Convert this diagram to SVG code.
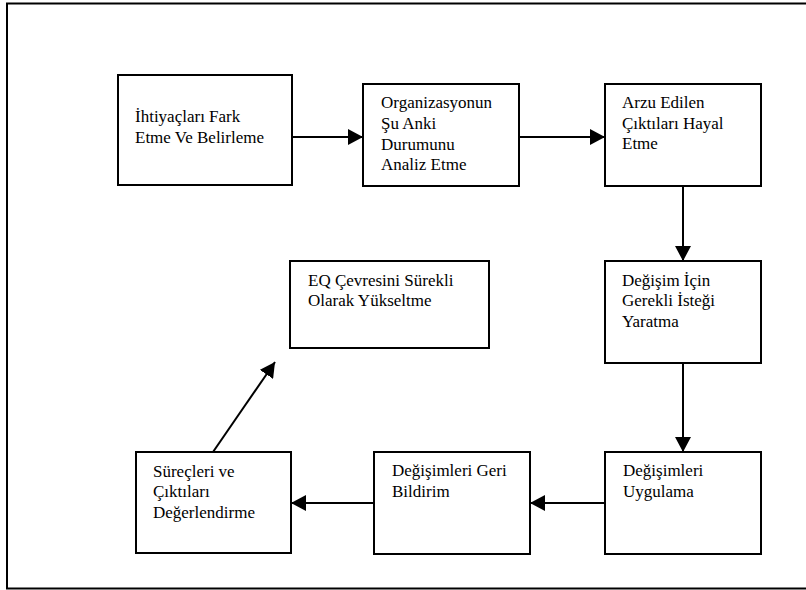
<svg xmlns="http://www.w3.org/2000/svg" width="806" height="590" viewBox="0 0 806 590">
<style>
.box{fill:#fff;stroke:#000;stroke-width:2}
.c{stroke:#000;stroke-width:2;fill:none;marker-end:url(#ah)}
</style>
<defs>
<marker id="ah" markerUnits="userSpaceOnUse" markerWidth="16" markerHeight="16" refX="15" refY="8" orient="auto">
<path d="M0,0 L15,8 L0,16 z" fill="#000"/>
</marker>
</defs>
<rect x="0" y="0" width="806" height="590" fill="#fff"/>
<rect x="7" y="3.5" width="820" height="585" fill="none" stroke="#000" stroke-width="2"/>
<g id="connectors">
<line class="c" x1="292" y1="137" x2="363" y2="137"/>
<line class="c" x1="519" y1="137" x2="605" y2="137"/>
<line class="c" x1="683" y1="186" x2="683" y2="261"/>
<line class="c" x1="683" y1="363" x2="683" y2="452"/>
<line class="c" x1="605" y1="503" x2="530" y2="503"/>
<line class="c" x1="374" y1="503" x2="291" y2="503"/>
<line class="c" x1="213" y1="452" x2="275" y2="362"/>
</g>
<g id="nodes" font-family="Liberation Serif, Times New Roman, serif" font-size="17" fill="#000">
<g id="n1">
<rect class="box" x="118" y="75" width="174" height="110"/>
<text x="135" y="122">İhtiyaçları Fark</text>
<text x="135" y="143">Etme Ve Belirleme</text>
</g>
<g id="n2">
<rect class="box" x="363" y="84" width="156" height="102"/>
<text x="381" y="108">Organizasyonun</text>
<text x="381" y="129">Şu Anki</text>
<text x="381" y="150">Durumunu</text>
<text x="381" y="170">Analiz Etme</text>
</g>
<g id="n3">
<rect class="box" x="605" y="84" width="156" height="102"/>
<text x="622" y="108">Arzu Edilen</text>
<text x="622" y="129">Çıktıları Hayal</text>
<text x="622" y="149">Etme</text>
</g>
<g id="n4">
<rect class="box" x="605" y="261" width="156" height="102"/>
<text x="622" y="286">Değişim İçin</text>
<text x="622" y="306">Gerekli İsteği</text>
<text x="622" y="327">Yaratma</text>
</g>
<g id="n5">
<rect class="box" x="605" y="452" width="156" height="102"/>
<text x="623" y="476">Değişimleri</text>
<text x="623" y="497">Uygulama</text>
</g>
<g id="n6">
<rect class="box" x="374" y="452" width="156" height="102"/>
<text x="392" y="476">Değişimleri Geri</text>
<text x="392" y="497">Bildirim</text>
</g>
<g id="n7">
<rect class="box" x="136" y="452" width="155" height="101"/>
<text x="153" y="477">Süreçleri ve</text>
<text x="153" y="497">Çıktıları</text>
<text x="153" y="518">Değerlendirme</text>
</g>
<g id="n8">
<rect class="box" x="290" y="261" width="199" height="87"/>
<text x="308" y="286">EQ Çevresini Sürekli</text>
<text x="308" y="306">Olarak Yükseltme</text>
</g>
</g>
</svg>
